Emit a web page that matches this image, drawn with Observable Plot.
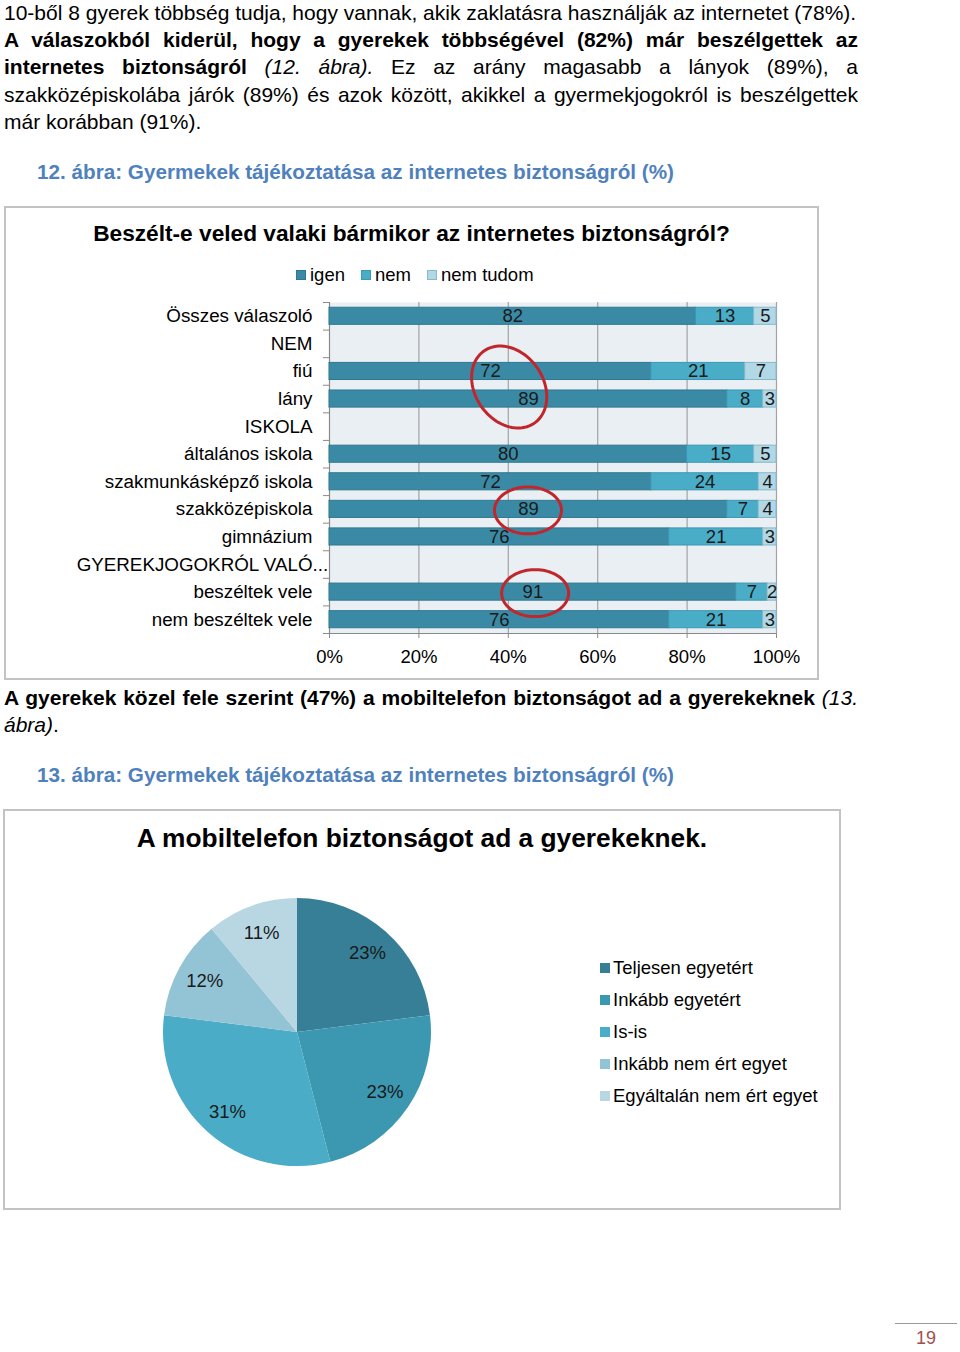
<!DOCTYPE html>
<html><head><meta charset="utf-8">
<script src="https://cdn.jsdelivr.net/npm/d3@7"></script>
<script src="https://cdn.jsdelivr.net/npm/@observablehq/plot@0.6"></script>
<style>
html,body{margin:0;padding:0;background:#fff;}
body{position:relative;width:960px;height:1352px;overflow:hidden;font-family:"Liberation Sans",Arial,sans-serif;color:#000;}
.abs{position:absolute;white-space:nowrap;}
.line{position:absolute;left:4px;width:854px;font-size:21px;line-height:27px;height:27px;white-space:nowrap;}
.just{text-align:justify;text-align-last:justify;white-space:normal;overflow:hidden;}
.cap{position:absolute;left:37px;font-size:20.7px;font-weight:bold;color:#4f81bd;line-height:28px;white-space:nowrap;}
.box{position:absolute;border:2px solid #c3c3c3;box-sizing:border-box;}
.sq{position:absolute;width:10px;height:10px;box-sizing:border-box;}
</style></head><body>
<script>
// ---------- chart 12 data ----------
const categories = ["Összes válaszoló","NEM","fiú","lány","ISKOLA","általános iskola","szakmunkásképző iskola","szakközépiskola","gimnázium","GYEREKJOGOKRÓL VALÓ...","beszéltek vele","nem beszéltek vele"];
const seriesKeys = ["igen","nem","nem tudom"];
const igen     = [82,null,72,89,null,80,72,89,76,null,91,76];
const nem      = [13,null,21, 8,null,15,24, 7,21,null, 7,21];
const nemTudom = [ 5,null, 7, 3,null, 5, 4, 4, 3,null, 2, 3];
const xTicks = [0,20,40,60,80,100];
const seriesColors = ["#3a8aa5","#4aadc8","#b2d7e5"];
const seriesStrokes = ["#2f7890","#3b98b3","#86b9cc"];
// annotation circles (red) around highlighted values
const hlTiltCat = ["lány"], hlTiltX = [40.2];
const hlCats = ["szakközépiskola","beszéltek vele"], hlX = [44.4, 46.0];

// ---------- chart 13 data ----------
const pieLabels = ["Teljesen egyetért","Inkább egyetért","Is-is","Inkább nem ért egyet","Egyáltalán nem ért egyet"];
const pieValues = [23,23,31,12,11];
const pieColors = ["#367f97","#3c97b1","#4aacc6","#93c4d6","#b9d7e3"];

const body = document.body;
function add(html, cls, style) {
  const d = document.createElement("div");
  if (cls) d.className = cls;
  d.innerHTML = html;
  Object.assign(d.style, style || {});
  body.appendChild(d);
  return d;
}
// ---------- page text ----------
const lh = 27;
add("10-ből 8 gyerek többség tudja, hogy vannak, akik zaklatásra használják az internetet (78%).", "line", {top: (12 - lh/2) + "px"});
add("<b>A válaszokból kiderül, hogy a gyerekek többségével (82%) már beszélgettek az</b>", "line just", {top: (39 - lh/2) + "px"});
add("<b>internetes biztonságról</b> <i>(12. ábra).</i> Ez az arány magasabb a lányok (89%), a", "line just", {top: (66 - lh/2) + "px"});
add("szakközépiskolába járók (89%) és azok között, akikkel a gyermekjogokról is beszélgettek", "line just", {top: (94 - lh/2) + "px"});
add("már korábban (91%).", "line", {top: (121 - lh/2) + "px"});
add("12. ábra: Gyermekek tájékoztatása az internetes biztonságról (%)", "cap", {top: (172 - 14) + "px"});

add("<b>A gyerekek közel fele szerint (47%) a mobiltelefon biztonságot ad a gyerekeknek</b> <i>(13.</i>", "line just", {top: (697 - lh/2) + "px"});
add("<i>ábra)</i>.", "line", {top: (724 - lh/2) + "px"});
add("13. ábra: Gyermekek tájékoztatása az internetes biztonságról (%)", "cap", {top: (775 - 14) + "px"});

// ---------- chart 12 box ----------
add("", "box", {left: "4px", top: "206px", width: "815px", height: "474px"});
add("Beszélt-e veled valaki bármikor az internetes biztonságról?", "abs",
  {left: "4px", width: "815px", textAlign: "center", top: (233 - 14) + "px", lineHeight: "28px", fontSize: "22.7px", fontWeight: "bold"});
const legX = [296, 361, 427];
seriesKeys.forEach((k, i) => {
  add("", "sq", {left: legX[i] + "px", top: "270px", background: seriesColors[i], border: "1px solid " + seriesStrokes[i]});
  add(k, "abs", {left: (legX[i] + 14) + "px", top: (275 - 11) + "px", lineHeight: "22px", fontSize: "18.5px"});
});

const barData = [];
categories.forEach((c, i) => {
  [igen, nem, nemTudom].forEach((arr, j) => {
    if (arr[i] != null) barData.push({cat: c, key: seriesKeys[j], value: arr[i], j});
  });
});
const plotH = 331, step = plotH / categories.length;
function ellipseSymbol(rx, ry, deg) {
  const t = deg * Math.PI / 180, c = Math.cos(t), s = Math.sin(t);
  return {draw(ctx) {
    const n = 90;
    for (let i = 0; i <= n; i++) {
      const a = 2 * Math.PI * i / n;
      const px = rx * Math.cos(a), py = ry * Math.sin(a);
      const x = px * c - py * s, y = px * s + py * c;
      if (i === 0) ctx.moveTo(x, y); else ctx.lineTo(x, y);
    }
    ctx.closePath();
  }};
}
const gyk = "GYEREKJOGOKRÓL VALÓ...";
const bar = Plot.plot({
  width: 820, height: 385,
  marginLeft: 329, marginRight: 44, marginTop: 12, marginBottom: 42,
  style: {fontFamily: "'Liberation Sans', Arial, sans-serif", fontSize: "18.5px", background: "transparent", color: "#000", overflow: "visible"},
  x: {domain: [0, 100]},
  y: {domain: categories, paddingInner: 0.38, paddingOuter: 0.19, round: false, label: null},
  color: {type: "identity"},
  marks: [
    Plot.frame({fill: "#e9eff3", stroke: null}),
    Plot.ruleX(xTicks.slice(1), {stroke: "#a3a3a3", strokeWidth: 1.2}),
    Plot.ruleX([0], {stroke: "#8a8a8a", strokeWidth: 1.2}),
    Plot.barX(barData, Plot.stackX({x: "value", y: "cat", z: "key", order: seriesKeys,
      fill: d => seriesColors[d.j], stroke: d => seriesStrokes[d.j], strokeWidth: 1, inset: 0})),
    Plot.text(barData, Plot.stackX({x: "value", y: "cat", z: "key", order: seriesKeys,
      text: d => String(d.value), fill: "#1a1a1a", fontSize: 18.5})),
    // category tick marks at band boundaries
    Plot.ruleY(categories, {y: d => d, x1: -1.34, x2: 0, dy: -step / 2, stroke: "#8a8a8a"}),
    Plot.ruleY([categories[categories.length - 1]], {y: d => d, x1: -1.34, x2: 100, dy: step / 2, stroke: "#8a8a8a", strokeWidth: 1.2}),
    Plot.axisY({tickSize: 0, tickPadding: 17, fontSize: 18.8, fill: "#000",
      tickFormat: d => d === gyk ? "GYEREKJOGOKRÓL VALÓ" : d}),
    Plot.text([gyk], {y: d => d, x: 0, text: () => "...", textAnchor: "start", dx: -17, fontSize: 18.8, fill: "#000"}),
    Plot.axisX(xTicks, {tickFormat: d => d + "%", tickSize: 5, tickPadding: 11, fontSize: 18.5, stroke: "#8a8a8a", fill: "#000", label: null}),
    Plot.dot(hlTiltCat.map((c, i) => ({c, x: hlTiltX[i]})), {x: "x", y: "c", dy: -12, r: 10,
      symbol: ellipseSymbol(34, 44, -35), fill: "none", stroke: "#c0272d", strokeWidth: 3}),
    Plot.dot(hlCats.map((c, i) => ({c, x: hlX[i]})), {x: "x", y: "c", dy: 1, r: 10,
      symbol: ellipseSymbol(33.5, 23.5, 0), fill: "none", stroke: "#c0272d", strokeWidth: 3})
  ]
});
Object.assign(bar.style, {position: "absolute", left: "0px", top: "290px"});
body.appendChild(bar);

// ---------- chart 13 box ----------
add("", "box", {left: "3px", top: "809px", width: "838px", height: "401px"});
add("A mobiltelefon biztonságot ad a gyerekeknek.", "abs",
  {left: "3px", width: "838px", textAlign: "center", top: (838 - 16) + "px", lineHeight: "32px", fontSize: "26.3px", fontWeight: "bold"});
const arcs = d3.pie().sort(null)(pieValues);
const R = 134, half = 150;
const pie = Plot.plot({
  width: 2 * half, height: 2 * half, margin: 0,
  style: {fontFamily: "'Liberation Sans', Arial, sans-serif", background: "transparent", color: "#000", overflow: "visible"},
  x: {domain: [-half / R, half / R], axis: null},
  y: {domain: [-half / R, half / R], axis: null},
  marks: [
    (index, scales) => {
      const cx = scales.x(0), cy = scales.y(0), r = scales.x(1) - cx;
      const g = d3.create("svg:g").attr("transform", `translate(${cx},${cy})`);
      const arc = d3.arc().innerRadius(0).outerRadius(r);
      g.selectAll("path").data(arcs).join("path").attr("d", arc).attr("fill", (d, i) => pieColors[i]);
      return g.node();
    },
    Plot.text(arcs, {
      x: d => 0.79 * Math.sin((d.startAngle + d.endAngle) / 2),
      y: d => 0.79 * Math.cos((d.startAngle + d.endAngle) / 2),
      text: d => d.value + "%", fontSize: 18.5, fill: "#1a1a1a"
    })
  ]
});
Object.assign(pie.style, {position: "absolute", left: (297 - half) + "px", top: (1032 - half) + "px"});
body.appendChild(pie);
pieLabels.forEach((lab, i) => {
  const yc = 968 + 32 * i;
  add("", "sq", {left: "600px", top: (yc - 5) + "px", background: pieColors[i]});
  add(lab, "abs", {left: "613px", top: (yc - 11) + "px", lineHeight: "22px", fontSize: "18.5px"});
});

// ---------- page number ----------
add("", "abs", {left: "895px", top: "1323px", width: "62px", height: "1px", background: "#9a9a9a"});
add("19", "abs", {left: "895px", width: "62px", textAlign: "center", top: (1338 - 11) + "px", lineHeight: "22px", fontSize: "18px", color: "#a0504b"});
</script>
</body></html>
